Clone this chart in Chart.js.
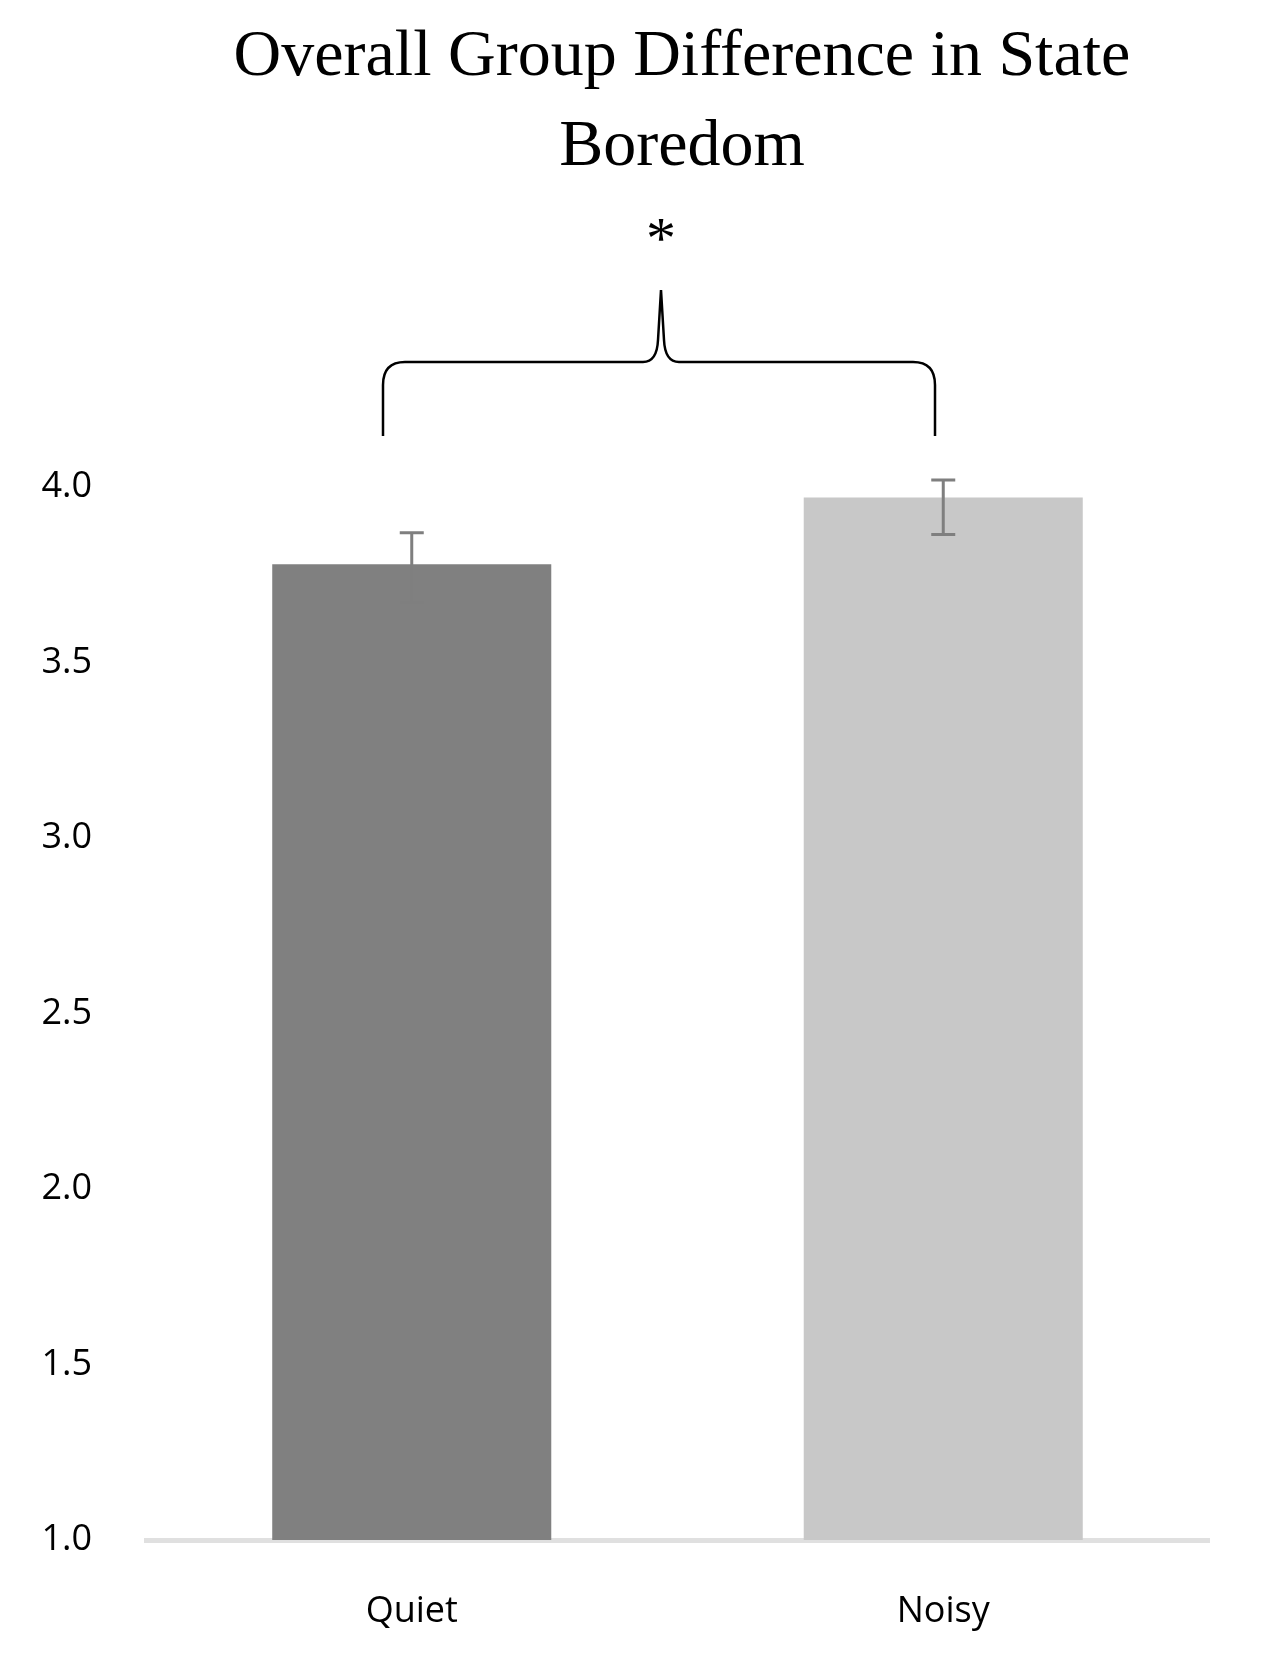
<!DOCTYPE html>
<html>
<head>
<meta charset="utf-8">
<script src="https://cdn.jsdelivr.net/npm/chart.js@4"></script>
<style>
  body { margin: 0; background: #fff; }
  #wrap { width: 1281px; height: 1655px; }
</style>
</head>
<body>
<div id="wrap"><canvas id="chart" width="1281" height="1655"></canvas></div>
<script>
const categories = ['Quiet', 'Noisy'];
const means = [3.78, 3.97];
const errLow = [3.67, 3.865];
const errHigh = [3.87, 4.02];
const barColors = ['#808080', '#c8c8c8'];
const titleLines = ['Overall Group Difference in State', 'Boredom'];

// title, significance bracket and error bars
const extras = {
    id: 'extras',
    afterDatasetsDraw(chart) {
        const ctx = chart.ctx;
        const meta = chart.getDatasetMeta(0);
        const y = chart.scales.y;
        ctx.save();

        ctx.strokeStyle = '#7f7f7f';
        ctx.lineWidth = 3;
        meta.data.forEach((bar, i) => {
            const top = y.getPixelForValue(errHigh[i]);
            const bot = y.getPixelForValue(errLow[i]);
            ctx.beginPath();
            ctx.moveTo(bar.x, top); ctx.lineTo(bar.x, bot);
            ctx.moveTo(bar.x - 12, top); ctx.lineTo(bar.x + 12, top);
            ctx.moveTo(bar.x - 12, bot); ctx.lineTo(bar.x + 12, bot);
            ctx.stroke();
        });

        ctx.fillStyle = '#000';
        ctx.textAlign = 'center';
        ctx.textBaseline = 'middle';
        ctx.font = '66px "Liberation Serif", serif';
        ctx.fillText(titleLines[0], 682, 58);
        ctx.fillText(titleLines[1], 682, 148);
        ctx.font = '60px "Liberation Serif", serif';
        ctx.fillText('*', 661, 242);

        // curly bracket
        const l = 383, r = 935, c = 661, h = 362;
        ctx.strokeStyle = '#000';
        ctx.lineWidth = 2.5;
        ctx.beginPath();
        ctx.moveTo(l, 436);
        ctx.lineTo(l, 385);
        ctx.quadraticCurveTo(l, h, l + 22, h);
        ctx.lineTo(c - 18, h);
        ctx.quadraticCurveTo(c - 4, h, c - 3, 340);
        ctx.lineTo(c, 290);
        ctx.lineTo(c + 3, 340);
        ctx.quadraticCurveTo(c + 4, h, c + 18, h);
        ctx.lineTo(r - 22, h);
        ctx.quadraticCurveTo(r, h, r, 385);
        ctx.lineTo(r, 436);
        ctx.stroke();
        ctx.restore();
    }
};

new Chart(document.getElementById('chart'), {
    type: 'bar',
    data: {
        labels: categories,
        datasets: [{
            data: means,
            backgroundColor: barColors,
            barPercentage: 0.525,
            categoryPercentage: 1
        }]
    },
    options: {
        responsive: false,
        animation: false,
        layout: { padding: { top: 487, right: 72, left: 0, bottom: 0 } },
        plugins: { legend: { display: false }, tooltip: { enabled: false } },
        scales: {
            y: {
                min: 1, max: 4,
                ticks: { stepSize: 0.5, padding: 46, color: '#000', font: { family: 'Open Sans', size: 36 } },
                grid: { display: false },
                border: { display: false },
                afterFit(s) { s.width = 146; }
            },
            x: {
                ticks: { padding: 42, color: '#000', font: { family: 'Open Sans', size: 36 } },
                grid: { display: false },
                border: { color: '#e0e0e0', width: 5 },
                afterFit(s) { s.height = 115; }
            }
        }
    },
    plugins: [extras]
});
</script>
</body>
</html>
